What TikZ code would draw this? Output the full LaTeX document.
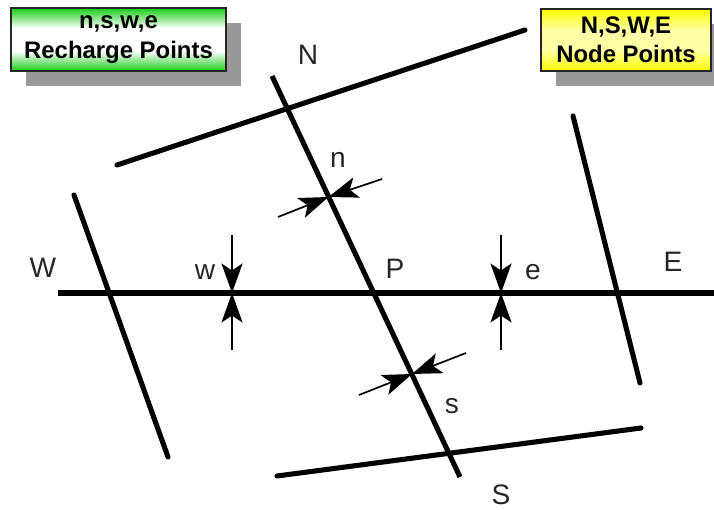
\documentclass[tikz,border=0pt]{standalone}
\usepackage{fontspec}
\setmainfont{Liberation Sans}
\usetikzlibrary{arrows.meta,shadows}

\definecolor{rechargegreen}{RGB}{25,205,25}
\definecolor{nodeyellow}{RGB}{255,255,0}
\definecolor{nodeyellowlight}{RGB}{255,255,165}

% vertical bands for the legend boxes
\pgfdeclareverticalshading{greenband}{100bp}{color(0bp)=(rechargegreen); color(25bp)=(rechargegreen);
  color(41bp)=(white); color(59bp)=(white); color(75bp)=(rechargegreen); color(100bp)=(rechargegreen)}
\pgfdeclareverticalshading{yellowband}{100bp}{color(0bp)=(nodeyellow); color(25bp)=(nodeyellow);
  color(42bp)=(nodeyellowlight); color(58bp)=(nodeyellowlight); color(75bp)=(nodeyellow); color(100bp)=(nodeyellow)}

\tikzset{
  face/.style={line width=3.6pt, line cap=round},
  grid/.style={line width=3.6pt},
  flux/.style={line width=1.2pt, -{Stealth[length=21pt,width=15pt,inset=5pt]}},
  lbl/.style={font=\fontsize{20}{24}\selectfont, text=black!85, inner sep=0pt},
  legend/.style={draw=black!85, line width=1pt, inner sep=0pt, align=center,
    font=\bfseries\fontsize{17}{21}\selectfont,
    drop shadow={shadow xshift=0.375cm, shadow yshift=-0.375cm, fill=black!40, opacity=1}}
}

\begin{document}
\begin{tikzpicture}[x=0.025cm, y=-0.025cm]
  \useasboundingbox (0,0) rectangle (714,510);

  % --- legend boxes ---
  \node[legend, minimum width=5.375cm, minimum height=1.575cm, shading=greenband]
        (recharge) at (118.5,39.5) {n,s,w,e\\Recharge Points};
  \node[legend, minimum width=4.25cm, minimum height=1.55cm, shading=yellowband]
        (nodepts) at (626,40) {N,S,W,E\\Node Points};

  % --- grid lines through P ---
  \coordinate (west end) at (58,293);
  \coordinate (east end) at (714,293);
  \coordinate (north end) at (272,76);
  \coordinate (south end) at (460,477);
  \draw[grid] (west end) -- (east end);
  \draw[grid] (north end) -- (south end);

  % --- control volume faces ---
  \coordinate (nf1) at (117,165);
  \coordinate (nf2) at (525,30);
  \coordinate (sf1) at (277,476);
  \coordinate (sf2) at (641,428);
  \coordinate (wf1) at (74,195);
  \coordinate (wf2) at (168,457);
  \coordinate (ef1) at (573,116);
  \coordinate (ef2) at (640,383);
  \draw[face] (nf1) -- (nf2);
  \draw[face] (sf1) -- (sf2);
  \draw[face] (wf1) -- (wf2);
  \draw[face] (ef1) -- (ef2);

  % --- recharge points ---
  \coordinate (n) at (328.5,197);
  \coordinate (s) at (412,374);
  \coordinate (w) at (232,293);
  \coordinate (e) at (501,293);

  % --- arrows to recharge points ---
  \coordinate (n in) at (278,217);
  \coordinate (n out) at (382,179);
  \coordinate (s in) at (359,395);
  \coordinate (s out) at (466,353);
  \coordinate (w top) at (232,235);
  \coordinate (w bot) at (232,350);
  \coordinate (e top) at (501,235);
  \coordinate (e bot) at (501,350);
  \draw[flux] (n in) -- (n);
  \draw[flux] (n out) -- (n);
  \draw[flux] (s in) -- (s);
  \draw[flux] (s out) -- (s);
  \draw[flux] (w top) -- (w);
  \draw[flux] (w bot) -- (w);
  \draw[flux] (e top) -- (e);
  \draw[flux] (e bot) -- (e);

  % --- labels ---
  \node[lbl] (N) at (308,55) {N};
  \node[lbl] (S) at (501,495) {S};
  \node[lbl] (W) at (43,268) {W};
  \node[lbl] (E) at (673,262) {E};
  \node[lbl] (P) at (395,269) {P};
  \node[lbl] (n lbl) at (338,160) {n};
  \node[lbl] (s lbl) at (452,406) {s};
  \node[lbl] (w lbl) at (205,272) {w};
  \node[lbl] (e lbl) at (533,272) {e};

\end{tikzpicture}
\end{document}
